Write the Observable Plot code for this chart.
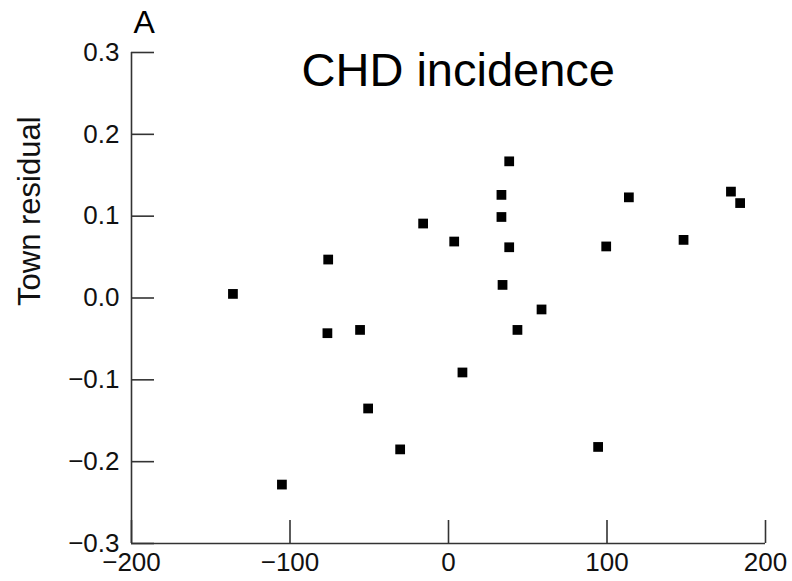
<!DOCTYPE html>
<html>
<head>
<meta charset="utf-8">
<script src="https://cdn.jsdelivr.net/npm/d3@7"></script>
<script src="https://cdn.jsdelivr.net/npm/@observablehq/plot@0.6"></script>
<style>
  html, body { margin: 0; padding: 0; background: #ffffff; }
  #chart svg { display: block; }
</style>
</head>
<body>
<div id="chart"></div>
<script>
// Town-level data (x: town deviation, y: town residual)
const townX = [-136.0, -105.1, -75.9, -76.4, -55.8, -50.7, -30.5, -16.0, 3.6, 8.8,
               33.4, 33.4, 38.3, 38.3, 34.1, 43.5, 58.7, 94.4, 99.5, 113.8,
               148.3, 178.2, 184.0];
const townResidual = [0.005, -0.228, 0.047, -0.043, -0.039, -0.135, -0.185, 0.091, 0.069, -0.091,
                      0.126, 0.099, 0.167, 0.062, 0.016, -0.039, -0.014, -0.182, 0.063, 0.123,
                      0.071, 0.130, 0.116];
const xTicks = [-200, -100, 0, 100, 200];
const yTicks = [-0.3, -0.2, -0.1, 0.0, 0.1, 0.2, 0.3];
const titleText = "CHD incidence";
const panelLabel = "A";
const yLabel = "Town residual";

const points = townX.map((x, i) => ({x, y: townResidual[i]}));

const W = 792, H = 581;
const mL = 131, mR = 27, mT = 52, mB = 38;
const tickLen = 23;
const axisColor = "#333";
const font = "'Liberation Sans', Arial, Helvetica, sans-serif";
const fmtX = d => (d < 0 ? "\u2212" : "") + Math.abs(d);
const fmtY = d => (d < -1e-9 ? "\u2212" : "") + Math.abs(d).toFixed(1);

const chart = Plot.plot({
  width: W,
  height: H,
  marginLeft: mL,
  marginRight: mR,
  marginTop: mT,
  marginBottom: mB,
  style: {fontFamily: font, background: "#ffffff", color: "#111"},
  x: {domain: [-200, 200], axis: null},
  y: {domain: [-0.3, 0.3], axis: null},
  marks: [
    // axis lines
    Plot.ruleX([-200], {stroke: axisColor, strokeWidth: 1.6}),
    Plot.ruleY([-0.3], {stroke: axisColor, strokeWidth: 1.6}),
    // inward ticks
    Plot.ruleY(yTicks, {y: d => d, stroke: axisColor, strokeWidth: 1.6,
      insetRight: W - mL - mR - tickLen}),
    Plot.ruleX(xTicks, {x: d => d, stroke: axisColor, strokeWidth: 1.6,
      insetTop: H - mT - mB - tickLen}),
    // tick labels
    Plot.text(yTicks, {y: d => d, text: fmtY, frameAnchor: "left", textAnchor: "end",
      dx: -12, fontSize: 26, fill: "#111"}),
    Plot.text(xTicks, {x: d => d, text: fmtX, frameAnchor: "bottom", lineAnchor: "top",
      dy: 9, fontSize: 26, fill: "#111"}),
    // points
    Plot.dot(points, {x: "x", y: "y", symbol: "square", r: 5.5, fill: "#000", stroke: "none"}),
    // y axis label
    Plot.text([yLabel], {frameAnchor: "left", rotate: -90, dx: -101, dy: 8,
      fontSize: 31, fill: "#111"}),
    // title inside plot
    Plot.text([titleText], {frameAnchor: "top-left", textAnchor: "start", lineAnchor: "top",
      dx: 170, dy: 0, fontSize: 47, fill: "#000"}),
    // panel label
    Plot.text([panelLabel], {frameAnchor: "top-left", textAnchor: "start", lineAnchor: "top",
      dx: 2, dy: -42, fontSize: 32, fill: "#000"})
  ]
});
document.getElementById("chart").appendChild(chart);
</script>
</body>
</html>
